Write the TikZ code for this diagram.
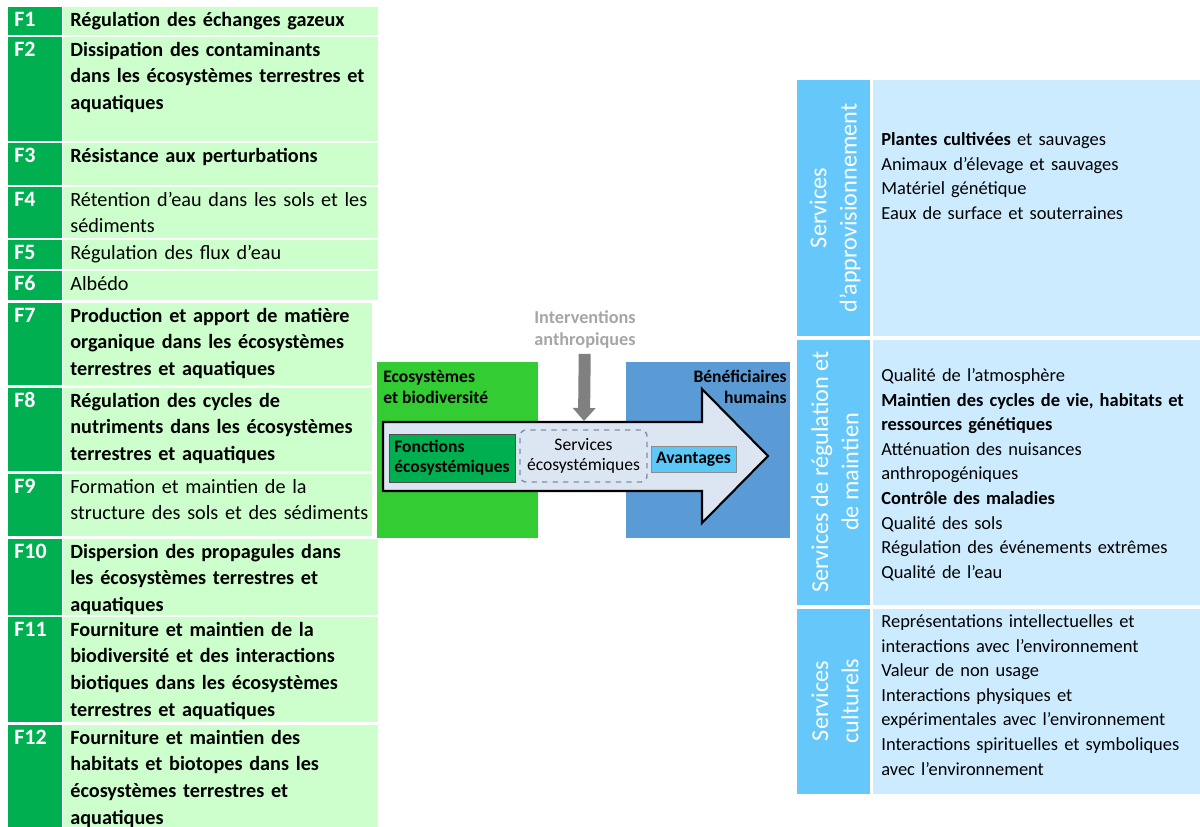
\documentclass[tikz,border=0pt]{standalone}
\usepackage{fontspec}
\setmainfont{Carlito}
\usetikzlibrary{arrows.meta}
\pgfdeclarelayer{edgelayer}
\pgfdeclarelayer{nodelayer}
\pgfsetlayers{edgelayer,nodelayer,main}
\definecolor{fdark}{HTML}{00B050}
\definecolor{flight}{HTML}{CCFFCC}
\definecolor{ecogreen}{HTML}{33CC33}
\definecolor{humblue}{HTML}{5B9BD5}
\definecolor{arrowfill}{HTML}{DCE6F2}
\definecolor{avblue}{HTML}{5BC8F8}
\definecolor{sdark}{HTML}{66C8FA}
\definecolor{slight}{HTML}{CCEBFF}
\definecolor{intgray}{HTML}{A6A6A6}
\definecolor{dashgray}{HTML}{7F8FA6}
\tikzstyle{flabel}=[anchor=north west,inner sep=0,text=white,font=\fontsize{12.5}{15.2}\selectfont\bfseries]
\tikzstyle{ftext}=[anchor=north west,inner sep=0,align=left,text width=6.2cm,font=\fontsize{11.5}{15.2}\selectfont]
\tikzstyle{slabel}=[rotate=90,inner sep=0,text=white,align=center,font=\fontsize{13.8}{17.2}\selectfont]
\tikzstyle{stext}=[anchor=north west,inner sep=0,align=left,text width=6.4cm,font=\fontsize{10.5}{14}\selectfont]
\tikzstyle{boxtitle}=[inner sep=0,font=\fontsize{10}{12}\selectfont\bfseries]
\tikzstyle{inbox}=[inner sep=0,align=center,font=\fontsize{10}{11.3}\selectfont]
\tikzstyle{intervention}=[draw=gray,line width=0.24cm,-{Triangle[length=0.26cm,width=0.46cm,line width=0pt]}]

\begin{document}
\begin{tikzpicture}[x=0.02cm,y=-0.02cm]
	\useasboundingbox (0,0) rectangle (1200,827);
	% left table of functions
	\foreach \t/\b/\r/\lab/\txt in {
		7/35/378/F1/{\bfseries Régulation des échanges gazeux},
		37/141/378/F2/{\bfseries Dissipation des contaminants\\dans les écosystèmes terrestres et\\aquatiques},
		143/185/378/F3/{\bfseries Résistance aux perturbations},
		187/238/378/F4/{Rétention d’eau dans les sols et les\\sédiments},
		240/269/378/F5/{Régulation des flux d’eau},
		271/300/378/F6/{Albédo},
		303/385/372/F7/{\bfseries Production et apport de matière\\organique dans les écosystèmes\\terrestres et aquatiques},
		388/471/372/F8/{\bfseries Régulation des cycles de\\nutriments dans les écosystèmes\\terrestres et aquatiques},
		474/536/372/F9/{Formation et maintien de la\\structure des sols et des sédiments},
		539/615/378/F10/{\bfseries Dispersion des propagules dans\\les écosystèmes terrestres et\\aquatiques},
		617/722/378/F11/{\bfseries Fourniture et maintien de la\\biodiversité et des interactions\\biotiques dans les écosystèmes\\terrestres et aquatiques},
		725/827/378/F12/{\bfseries Fourniture et maintien des\\habitats et biotopes dans les\\écosystèmes terrestres et\\aquatiques}}
	{
		\fill[fdark] (8,\t) rectangle (62,\b);
		\fill[flight] (63,\t) rectangle (\r,\b);
		\node[style=flabel] (l\lab) at (14,\t) {\strut\lab};
		\node[style=ftext] (t\lab) at (70,\t) {\strut\txt};
	}

	% right table of services
	\fill[sdark] (797,80) rectangle (870,336);
	\fill[slight] (873,80) rectangle (1200,336);
	\fill[sdark] (797,340) rectangle (870,605);
	\fill[slight] (873,340) rectangle (1200,605);
	\fill[sdark] (797,609) rectangle (870,794);
	\fill[slight] (873,609) rectangle (1200,794);
	\node[style=slabel] (appro) at (835,208) {Services\\d’approvisionnement};
	\node[style=slabel] (regul) at (835,472) {Services de régulation et\\de maintien};
	\node[style=slabel] (cult) at (835,701) {Services\\culturels};
	\node[style=stext] (sappro) at (881,128) {\strut\textbf{Plantes cultivées} et sauvages\\Animaux d’élevage et sauvages\\Matériel génétique\\Eaux de surface et souterraines};
	\node[style=stext] (sregul) at (881,364) {\strut Qualité de l’atmosphère\\\textbf{Maintien des cycles de vie, habitats et}\\\textbf{ressources génétiques}\\Atténuation des nuisances\\anthropogéniques\\\textbf{Contrôle des maladies}\\Qualité des sols\\Régulation des événements extrêmes\\Qualité de l’eau};
	\node[style=stext] (scult) at (881,610) {\strut Représentations intellectuelles et\\interactions avec l’environnement\\Valeur de non usage\\Interactions physiques et\\expérimentales avec l’environnement\\Interactions spirituelles et symboliques\\avec l’environnement};

	% central scheme
	\fill[ecogreen] (377,362) rectangle (538,538);
	\fill[humblue] (626,362) rectangle (790,538);
	\node[style=boxtitle,anchor=north west,align=left] (eco) at (383,367) {\strut Ecosystèmes\\et biodiversité};
	\node[style=boxtitle,anchor=north east,align=right] (benef) at (787,367) {\strut Bénéficiaires\\humains};
	\draw[fill=arrowfill,line width=1.2pt,line join=miter] (383,422) -- (702,422) -- (702,389) -- (768,456)
		-- (702,523) -- (702,491) -- (383,491) -- cycle;
	\coordinate (arrtop) at (584,421);
	\begin{pgfonlayer}{main}
		\node[style=inbox,fill=fdark,draw=black!70,minimum width=2.52cm,minimum height=0.96cm,font=\fontsize{10}{11.3}\selectfont\bfseries,align=left] (fonct) at (452,458) {Fonctions\\écosystémiques};
		\node[style=inbox,fill=arrowfill,draw=dashgray,dashed,line width=0.8pt,rounded corners=0.12cm,minimum width=2.54cm,minimum height=1.04cm] (serv) at (583.5,456) {Services\\écosystémiques};
		\node[style=inbox,fill=avblue,draw=black!45,minimum width=1.7cm,minimum height=0.52cm,font=\fontsize{10}{11.3}\selectfont\bfseries] (avant) at (693.5,459) {Avantages};
		\node[inner sep=0,align=center,text=intgray,font=\fontsize{10.4}{12.5}\selectfont\bfseries,anchor=north] (interv) at (585,308) {\strut Interventions\\anthropiques};
		\draw[style=intervention,shorten <=0.1cm] (interv) -- (arrtop);
	\end{pgfonlayer}
\end{tikzpicture}
\end{document}
